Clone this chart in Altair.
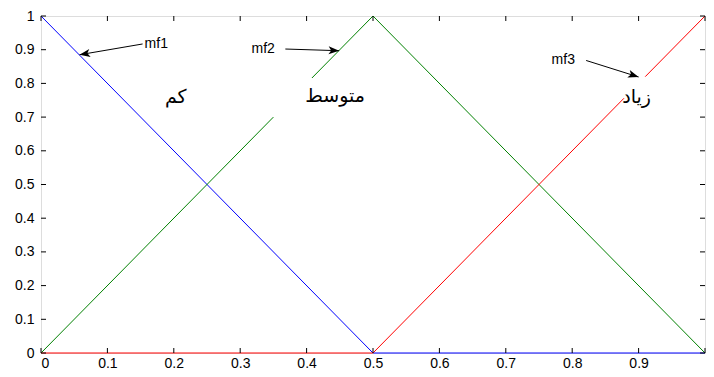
import altair as alt
import pandas as pd

# membership function lines (segments broken where labels sit)
series = ["mf1", "mf2", "mf2", "mf3", "mf3"]
seg_x = [[0.0, 0.5, 1.0], [0.0, 0.35], [0.408, 0.5, 1.0], [0.0, 0.5, 0.878], [0.91, 1.0]]
seg_y = [[1.0, 0.0, 0.0], [0.0, 0.70], [0.816, 1.0, 0.0], [0.0, 0.0, 0.756], [0.82, 1.0]]
colors = ["#0000ff", "#008000", "#ff0000"]

# annotations
ann_text = ["mf1", "mf2", "mf3"]
ann_tx = [0.153, 0.368, 0.821]
ann_ty = [0.917, 0.902, 0.868]
ann_hx = [0.058, 0.449, 0.900]
ann_hy = [0.885, 0.897, 0.819]
ann_lx = [0.156, 0.317, 0.769]
ann_angle = [260, 92, 108]

fa_text = ["کم", "متوسط", "زیاد"]
fa_x = [0.203, 0.443, 0.897]
fa_y = [0.759, 0.764, 0.759]

x_ticks = [round(i * 0.1, 1) for i in range(11)]
x_labels = [round(i * 0.1, 1) for i in range(10)]
y_ticks = [round(i * 0.1, 1) for i in range(11)]

W, H = 664, 337

rows = []
for s, (name, xs, ys) in enumerate(zip(series, seg_x, seg_y)):
    for i, (a, b) in enumerate(zip(xs, ys)):
        rows.append({"series": name, "seg": s, "i": i, "x": a, "y": b})
lines_df = pd.DataFrame(rows)

ann_df = pd.DataFrame({"t": ann_text, "tx": ann_tx, "ty": ann_ty, "hx": ann_hx,
                       "hy": ann_hy, "lx": ann_lx, "ang": ann_angle})
fa_df = pd.DataFrame({"t": fa_text, "x": fa_x, "y": fa_y})
xt_df = pd.DataFrame({"v": x_ticks})
yt_df = pd.DataFrame({"v": y_ticks})

xs = alt.Scale(domain=[0, 1], nice=False, zero=False)
ys = alt.Scale(domain=[0, 1], nice=False, zero=False)

xax = alt.Axis(values=x_labels, format="~g", ticks=False, grid=False, domain=False,
               labelFontSize=14, labelFont="Liberation Sans", labelColor="#000",
               labelPadding=3, labelOverlap=False, title=None)
yax = alt.Axis(values=y_ticks, format="~g", ticks=False, grid=False, domain=False,
               labelFontSize=14, labelFont="Liberation Sans", labelColor="#000",
               labelPadding=7, labelOverlap=False, labelBound=False, title=None)


def X(f):
    return alt.X(f, scale=xs, axis=xax, title=None)


def Y(f):
    return alt.Y(f, scale=ys, axis=yax, title=None)


lines = alt.Chart(lines_df).mark_line(strokeWidth=1).encode(
    x=X("x:Q"),
    y=Y("y:Q"),
    color=alt.Color("series:N", scale=alt.Scale(domain=["mf1", "mf2", "mf3"], range=colors), legend=None),
    detail="seg:N",
    order="i:Q",
)

tick_b = alt.Chart(xt_df).mark_rule(color="#000", strokeWidth=1).encode(
    x=X("v:Q"), y=alt.value(H), y2=alt.value(H - 5))
tick_t = alt.Chart(xt_df).mark_rule(color="#000", strokeWidth=1).encode(
    x=X("v:Q"), y=alt.value(0), y2=alt.value(5))
tick_l = alt.Chart(yt_df).mark_rule(color="#000", strokeWidth=1).encode(
    y=Y("v:Q"), x=alt.value(0), x2=alt.value(5))
tick_r = alt.Chart(yt_df).mark_rule(color="#000", strokeWidth=1).encode(
    y=Y("v:Q"), x=alt.value(W), x2=alt.value(W - 5))

arrows = alt.Chart(ann_df).mark_rule(color="#000", strokeWidth=1).encode(
    x=X("tx:Q"), y=Y("ty:Q"), x2="hx:Q", y2="hy:Q")
heads = alt.Chart(ann_df).mark_point(
    shape="M0,0L-0.38,1L0,0.75L0.38,1Z", filled=True, color="#000", opacity=1, size=450
).encode(x=X("hx:Q"), y=Y("hy:Q"), angle=alt.Angle("ang:Q", scale=None))
ann_lbl = alt.Chart(ann_df).mark_text(align="left", baseline="middle", fontSize=14,
                                      font="Liberation Sans", color="#000").encode(
    x=X("lx:Q"), y=Y("ty:Q"), text="t:N")
fa_lbl = alt.Chart(fa_df).mark_text(align="center", baseline="middle", fontSize=19,
                                    font="DejaVu Sans", color="#000").encode(
    x=X("x:Q"), y=Y("y:Q"), text="t:N")

chart = alt.layer(lines, tick_b, tick_t, tick_l, tick_r, arrows, heads, ann_lbl, fa_lbl).properties(
    width=W, height=H,
    autosize=alt.AutoSizeParams(type="none"),
    padding={"left": 33, "top": 8, "right": 1, "bottom": 16},
).configure_view(stroke="#000", strokeWidth=1).configure(background="white")

chart.save("out.html", embed_options={"renderer": "svg", "actions": False})
